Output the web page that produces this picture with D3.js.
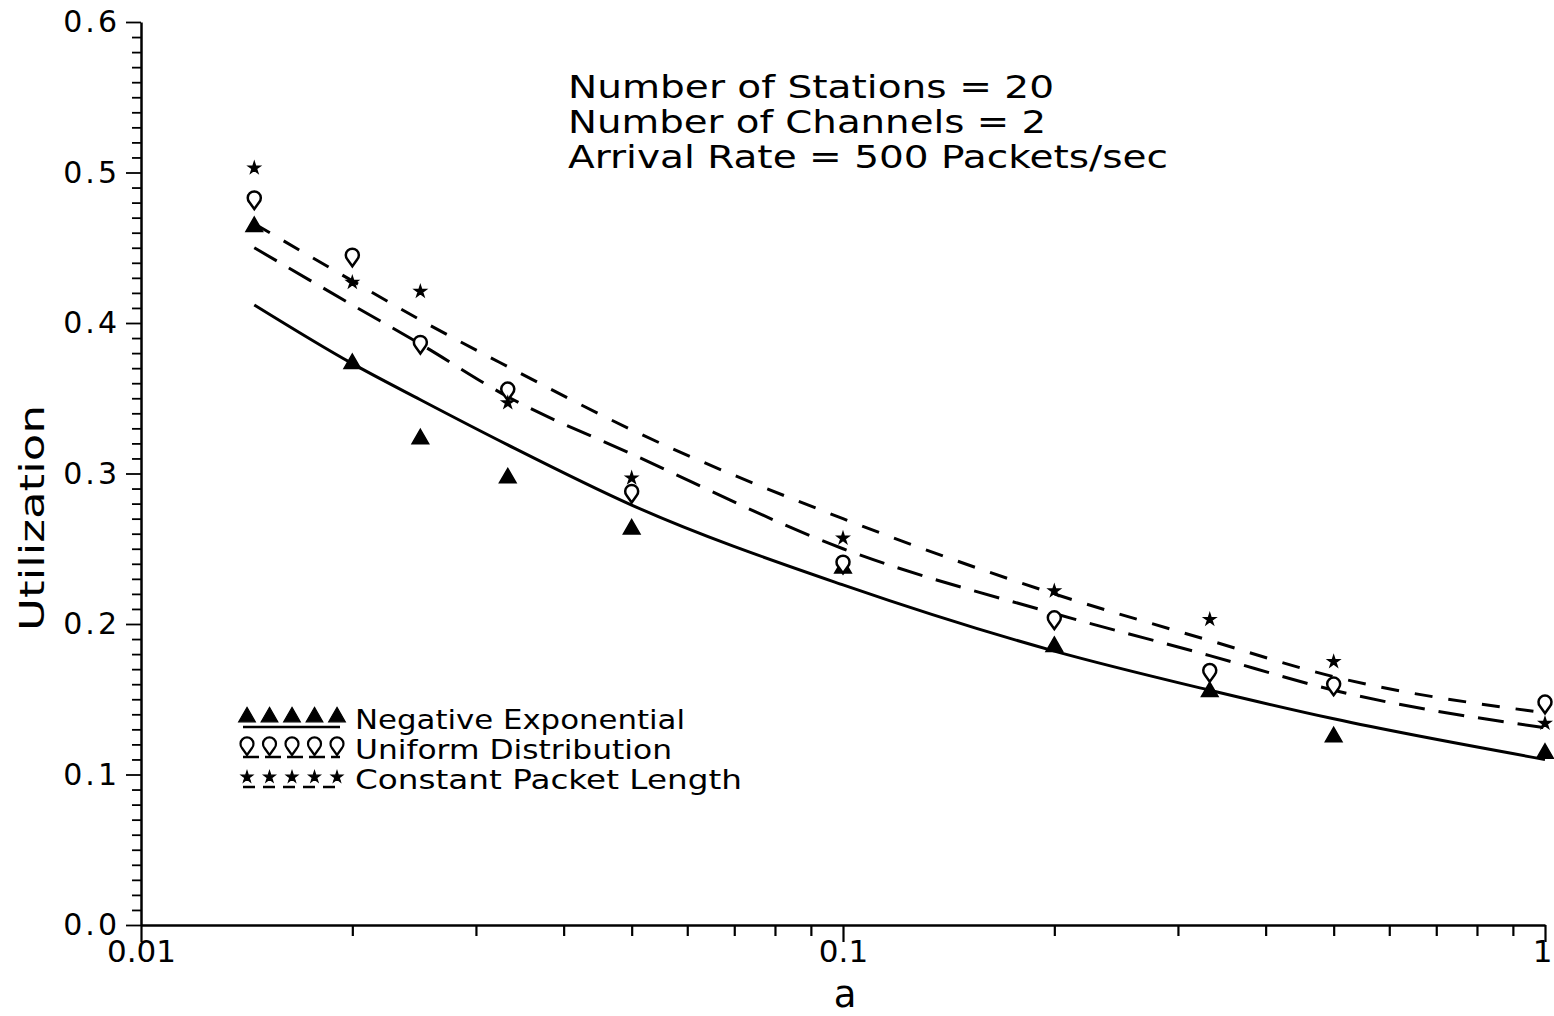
<!DOCTYPE html>
<html>
<head>
<meta charset="utf-8">
<script src="https://cdnjs.cloudflare.com/ajax/libs/d3/7.8.5/d3.min.js"></script>
<style>
body{margin:0;background:#fff;}
text{font-family:"DejaVu Sans",sans-serif;fill:#000;}
</style>
</head>
<body>
<div class="chart"></div>
<script>
// normalized propagation delay a
var aValues = [0.0145, 0.02, 0.025, 0.0333, 0.05, 0.1, 0.2, 0.333, 0.5, 1];

// simulation points
var negExpPts   = [0.464, 0.373, 0.323, 0.297, 0.263, 0.237, 0.185, 0.155, 0.125, 0.114];
var uniformPts  = [0.481, 0.443, 0.385, 0.354, 0.286, 0.239, 0.202, 0.167, 0.158, 0.146];
var constantPts = [0.503, 0.427, 0.421, 0.347, 0.297, 0.257, 0.222, 0.203, 0.175, 0.134];

// analytical curves
var negExpCurve   = [0.412, 0.373, 0.349, 0.319, 0.279, 0.226, 0.182, 0.156, 0.137, 0.110];
var uniformCurve  = [0.450, 0.412, 0.386, 0.351, 0.313, 0.250, 0.207, 0.179, 0.156, 0.131];
var constantCurve = [0.466, 0.428, 0.402, 0.371, 0.329, 0.270, 0.220, 0.189, 0.165, 0.141];

var yTickLabels = ["0.0", "0.1", "0.2", "0.3", "0.4", "0.5", "0.6"];
var xTickLabels = {0.01: "0.01", 0.1: "0.1", 1: "1"};
var legendNames = ["Negative  Exponential", "Uniform  Distribution", "Constant  Packet  Length"];
var noteLines = ["Number  of  Stations  =  20", "Number  of  Channels  =  2", "Arrival  Rate  =  500  Packets/sec"];

var w = 1554, h = 1016;

var svg = d3.select(".chart")
	.append("svg")
	.attr("width", w)
	.attr("height", h);

var x = d3.scaleLog().domain([0.01, 1]).range([141, 1545]);
var y = d3.scaleLinear().domain([0, 0.6]).range([925, 22]);

// x axis
var xTicks = [];
[0.01, 0.1].forEach(function(dec){
	for (var k = 1; k < 10; k++) xTicks.push(+(dec * k).toPrecision(3));
});
xTicks.push(1);

var xAxis = svg.append("g")
	.attr("transform", "translate(0,925)")
	.call(d3.axisBottom(x).tickValues(xTicks).tickSize(11).tickSizeOuter(0)
		.tickFormat(function(d){ return xTickLabels[d] || ""; }));
xAxis.select(".domain").attr("stroke-width", 2.5);
xAxis.selectAll(".tick line").attr("stroke-width", 2.2)
	.attr("y2", function(d){ return xTickLabels[d] ? 17 : 11; });
xAxis.selectAll(".tick text").attr("y", 15).attr("font-size", 31)
	.attr("dx", function(d){ return d === 1 ? -3 : 0; });

// y axis
var yTicks = d3.range(0, 61).map(function(i){ return i / 100; });
var yAxis = svg.append("g")
	.attr("transform", "translate(141,0)")
	.call(d3.axisLeft(y).tickValues(yTicks).tickSize(9).tickSizeOuter(0)
		.tickFormat(function(d, i){ return i % 10 === 0 ? yTickLabels[i / 10] : ""; }));
yAxis.select(".domain").attr("stroke-width", 2.5);
yAxis.selectAll(".tick line").attr("stroke-width", 1.8)
	.attr("x2", function(d, i){ return i % 10 === 0 ? -15 : -9; });
yAxis.selectAll(".tick text").attr("x", -21).attr("font-size", 30)
	.attr("letter-spacing", 3);

// axis titles
svg.append("text")
	.attr("transform", "translate(44,518) rotate(-90)")
	.attr("text-anchor", "middle")
	.attr("font-size", 34)
	.attr("textLength", 226)
	.attr("lengthAdjust", "spacingAndGlyphs")
	.text("Utilization");

svg.append("text")
	.attr("x", 845).attr("y", 1007)
	.attr("text-anchor", "middle")
	.attr("font-size", 37)
	.text("a");

// annotation
svg.selectAll("text.note")
	.data(noteLines)
	.enter()
	.append("text")
	.attr("class", "note")
	.attr("x", 568)
	.attr("y", function(d, i){ return 98 + i * 35; })
	.attr("font-size", 32)
	.attr("textLength", function(d, i){ return [486, 478, 600][i]; })
	.attr("lengthAdjust", "spacingAndGlyphs")
	.text(function(d){ return d; });

// curves
var line = d3.line()
	.x(function(d){ return x(d[0]); })
	.y(function(d){ return y(d[1]); })
	.curve(d3.curveMonotoneX);

var curves = [
	{vals: negExpCurve, dash: null},
	{vals: uniformCurve, dash: "26,14"},
	{vals: constantCurve, dash: "18,16"}
];

svg.selectAll("path.curve")
	.data(curves)
	.enter()
	.append("path")
	.attr("class", "curve")
	.attr("fill", "none")
	.attr("stroke", "#000")
	.attr("stroke-width", 3)
	.attr("stroke-dasharray", function(d){ return d.dash; })
	.attr("d", function(d){ return line(aValues.map(function(a, i){ return [a, d.vals[i]]; })); });

// markers
var tri = d3.symbol().type(d3.symbolTriangle).size(120)();
var drop = "M0,8 L-5,1 A6.5,6.5 0 1,1 5,1 Z";
var dot = d3.symbol().type(d3.symbolStar).size(40)();

function drawMarks(vals, shape, filled, cls){
	svg.selectAll("path." + cls)
		.data(vals)
		.enter()
		.append("path")
		.attr("class", cls)
		.attr("d", shape)
		.attr("transform", function(d, i){ return "translate(" + x(aValues[i]) + "," + y(d) + ")"; })
		.attr("fill", filled ? "#000" : "#fff")
		.attr("stroke", "#000")
		.attr("stroke-width", filled ? 1.5 : 2.5);
}
drawMarks(negExpPts, tri, true, "ne");
drawMarks(uniformPts, drop, false, "un");
drawMarks(constantPts, dot, true, "cp");

// legend
var legend = svg.append("g");
var legendMarks = [tri, drop, dot];
var legendDash = [null, "16,6", "12,8"];
var legendFill = [true, false, true];
legendNames.forEach(function(name, j){
	var ly = 717 + j * 30;
	for (var k = 0; k < 5; k++) {
		legend.append("path")
			.attr("d", legendMarks[j])
			.attr("transform", "translate(" + (247 + k * 22.5) + "," + ly + ")")
			.attr("fill", legendFill[j] ? "#000" : "#fff")
			.attr("stroke", "#000")
			.attr("stroke-width", legendFill[j] ? 1.2 : 2.2);
	}
	legend.append("line")
		.attr("x1", 243).attr("x2", 340)
		.attr("y1", ly + 10).attr("y2", ly + 10)
		.attr("stroke", "#000")
		.attr("stroke-width", 2.5)
		.attr("stroke-dasharray", legendDash[j]);
	legend.append("text")
		.attr("x", 355).attr("y", ly + 12)
		.attr("font-size", 27)
		.attr("textLength", [330, 317, 387][j])
		.attr("lengthAdjust", "spacingAndGlyphs")
		.text(name);
});
</script>
</body>
</html>
